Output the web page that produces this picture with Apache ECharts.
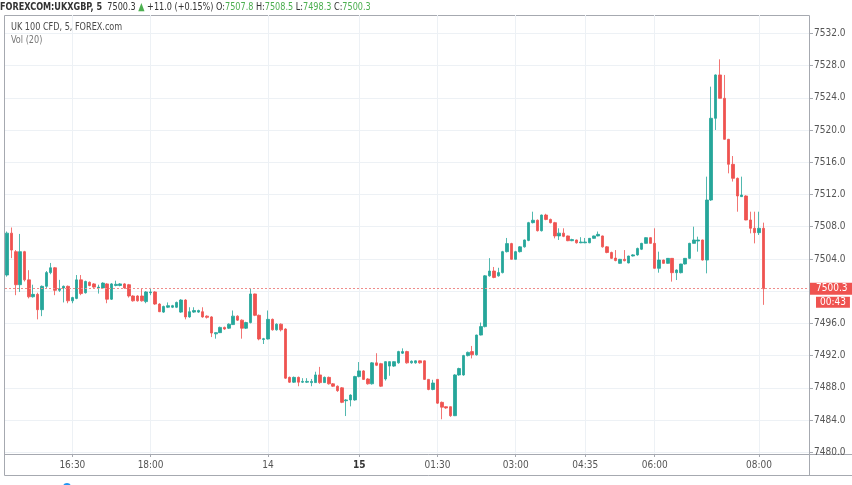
<!DOCTYPE html>
<html>
<head>
<meta charset="utf-8">
<title>UK 100 CFD, 5</title>
<script src="https://cdn.jsdelivr.net/npm/echarts@6/dist/echarts.min.js"></script>
<style>
  html, body { margin: 0; padding: 0; background: #fff; }
  #main { width: 852px; height: 485px; }
</style>
</head>
<body>
<div id="main"></div>
<script>
// 5 minute candles: [open, close, low, high]
var candles = [
  [7502.0, 7507.2, 7501.8, 7507.4], [7507.2, 7505.1, 7504.1, 7507.9], [7504.9, 7500.8, 7499.5, 7505.1],
  [7500.8, 7504.9, 7499.9, 7507.1], [7504.9, 7501.4, 7501.2, 7505.0], [7501.4, 7499.3, 7499.1, 7502.6],
  [7499.3, 7499.6, 7499.2, 7500.8], [7499.6, 7497.7, 7496.5, 7499.8], [7497.7, 7500.6, 7496.9, 7500.7],
  [7500.6, 7502.3, 7500.4, 7502.5], [7502.3, 7502.9, 7502.1, 7503.5], [7502.9, 7500.1, 7499.5, 7503.0],
  [7500.1, 7500.3, 7499.9, 7501.4], [7500.4, 7500.6, 7498.6, 7500.7], [7500.6, 7498.8, 7498.5, 7500.7],
  [7498.8, 7499.2, 7498.5, 7499.3], [7499.1, 7501.4, 7499.0, 7502.0], [7501.4, 7499.7, 7499.5, 7502.0],
  [7499.8, 7501.2, 7499.7, 7501.3], [7501.1, 7500.7, 7500.6, 7501.2], [7500.9, 7500.5, 7500.4, 7501.0],
  [7500.4, 7500.5, 7499.7, 7500.8], [7500.4, 7501.0, 7500.3, 7501.1], [7500.9, 7499.0, 7498.5, 7501.0],
  [7499.0, 7500.9, 7498.9, 7501.0], [7500.7, 7500.85, 7500.6, 7501.3], [7500.7, 7500.9, 7500.6, 7501.0],
  [7500.9, 7500.4, 7500.3, 7501.0], [7500.8, 7499.4, 7499.2, 7500.9], [7499.4, 7498.8, 7498.7, 7499.5],
  [7499.4, 7498.8, 7498.7, 7499.5], [7499.4, 7498.8, 7498.7, 7500.35], [7498.7, 7499.9, 7498.5, 7500.0],
  [7499.8, 7499.9, 7499.5, 7500.4], [7499.9, 7498.4, 7498.3, 7500.0], [7498.4, 7497.45, 7497.4, 7498.5],
  [7497.4, 7498.1, 7497.3, 7498.2], [7498.0, 7498.2, 7497.9, 7498.6], [7498.0, 7498.2, 7497.9, 7498.3],
  [7498.0, 7498.6, 7497.9, 7498.7], [7497.4, 7498.9, 7497.3, 7499.0], [7498.9, 7496.8, 7496.5, 7499.0],
  [7496.8, 7497.45, 7496.7, 7498.0], [7497.4, 7497.6, 7497.3, 7498.0], [7497.4, 7497.6, 7497.3, 7497.7],
  [7497.45, 7496.8, 7496.7, 7498.0], [7496.9, 7496.75, 7496.6, 7497.0], [7496.8, 7494.8, 7494.3, 7496.9],
  [7494.7, 7494.85, 7494.1, 7494.9], [7494.85, 7495.5, 7494.8, 7495.6], [7495.5, 7495.3, 7495.2, 7495.6],
  [7495.4, 7495.9, 7495.3, 7496.0], [7495.85, 7496.9, 7495.8, 7497.6], [7496.9, 7496.4, 7496.3, 7497.0],
  [7496.4, 7495.4, 7494.1, 7496.5], [7495.4, 7496.1, 7495.3, 7496.2], [7496.1, 7499.65, 7496.0, 7500.35],
  [7499.65, 7497.0, 7496.9, 7499.7], [7497.0, 7494.06, 7493.9, 7497.1], [7494.0, 7494.1, 7493.44, 7494.2],
  [7494.06, 7496.5, 7494.0, 7497.6], [7496.5, 7495.2, 7495.1, 7496.6], [7495.2, 7495.9, 7495.1, 7496.0],
  [7495.9, 7495.2, 7495.0, 7496.0], [7495.3, 7489.2, 7489.1, 7495.4], [7489.3, 7488.7, 7488.6, 7489.4],
  [7488.7, 7489.3, 7488.6, 7489.4], [7489.3, 7488.7, 7488.2, 7489.4], [7488.7, 7488.8, 7488.6, 7489.2],
  [7488.7, 7488.8, 7488.6, 7489.2], [7488.65, 7488.8, 7488.2, 7489.1], [7488.65, 7489.6, 7488.6, 7490.0],
  [7489.6, 7488.65, 7488.5, 7490.6], [7488.65, 7489.3, 7488.6, 7489.4], [7489.3, 7488.5, 7488.4, 7489.4],
  [7488.5, 7488.2, 7488.1, 7488.6], [7488.2, 7487.65, 7487.5, 7488.3], [7488.0, 7486.2, 7486.1, 7488.1],
  [7486.4, 7486.5, 7484.5, 7486.6], [7486.5, 7487.1, 7485.7, 7487.2], [7486.5, 7489.4, 7486.4, 7489.5],
  [7489.4, 7490.1, 7489.3, 7491.2], [7490.1, 7489.05, 7489.0, 7490.2], [7489.1, 7488.5, 7488.4, 7489.2],
  [7488.5, 7491.1, 7488.4, 7491.2], [7491.1, 7490.8, 7490.7, 7492.3], [7491.0, 7488.2, 7488.1, 7491.1],
  [7489.1, 7491.25, 7488.9, 7491.3], [7490.7, 7491.25, 7489.5, 7491.3], [7490.7, 7491.25, 7490.6, 7491.3],
  [7491.1, 7492.5, 7491.0, 7492.6], [7492.3, 7492.5, 7492.2, 7492.9], [7492.5, 7491.1, 7491.0, 7492.6],
  [7491.1, 7491.3, 7491.0, 7491.4], [7491.1, 7491.35, 7491.0, 7491.4], [7491.35, 7491.1, 7491.0, 7491.4],
  [7491.35, 7489.05, 7489.0, 7491.4], [7489.05, 7487.8, 7487.7, 7489.1], [7487.8, 7488.6, 7487.7, 7489.0],
  [7489.05, 7486.1, 7486.0, 7489.1], [7486.2, 7485.6, 7484.1, 7486.3], [7485.66, 7485.5, 7485.4, 7485.7],
  [7485.66, 7484.54, 7484.4, 7485.7], [7484.54, 7489.6, 7484.5, 7489.7], [7489.6, 7490.4, 7489.5, 7490.5],
  [7489.6, 7492.0, 7489.5, 7492.1], [7492.0, 7492.4, 7491.9, 7492.5], [7492.5, 7492.1, 7491.65, 7493.2],
  [7492.1, 7494.55, 7492.0, 7494.6], [7494.55, 7495.6, 7494.5, 7496.1], [7495.6, 7501.9, 7495.5, 7502.0],
  [7501.9, 7502.5, 7501.8, 7504.1], [7502.5, 7501.7, 7501.6, 7503.0], [7501.9, 7502.3, 7501.8, 7502.9],
  [7502.3, 7504.9, 7502.2, 7505.0], [7504.9, 7505.9, 7504.8, 7506.6], [7505.9, 7503.95, 7503.9, 7506.0],
  [7503.95, 7504.9, 7503.9, 7505.0], [7504.9, 7505.5, 7504.8, 7505.6], [7505.5, 7506.35, 7505.4, 7506.4],
  [7506.3, 7508.5, 7506.2, 7508.6], [7508.5, 7508.8, 7508.4, 7509.86], [7508.8, 7507.5, 7507.4, 7508.9],
  [7507.5, 7509.45, 7507.4, 7509.5], [7509.45, 7508.9, 7508.8, 7509.6], [7508.9, 7508.5, 7508.4, 7509.0],
  [7508.5, 7506.85, 7506.55, 7508.6], [7506.85, 7507.2, 7506.35, 7507.8], [7507.2, 7506.8, 7506.7, 7507.8],
  [7506.85, 7506.26, 7506.2, 7506.9], [7506.26, 7506.4, 7506.2, 7506.5], [7506.35, 7506.0, 7505.9, 7506.4],
  [7506.0, 7506.1, 7505.95, 7506.7], [7506.0, 7506.1, 7505.95, 7506.6], [7506.0, 7506.55, 7505.95, 7506.6],
  [7506.55, 7506.85, 7506.5, 7506.9], [7506.85, 7507.05, 7506.8, 7507.4], [7506.85, 7505.5, 7505.4, 7506.9],
  [7505.5, 7504.8, 7504.7, 7505.6], [7504.8, 7504.07, 7504.0, 7504.9], [7504.1, 7503.8, 7503.7, 7505.1],
  [7503.45, 7503.95, 7503.4, 7504.0], [7503.95, 7503.78, 7503.7, 7505.1], [7503.5, 7504.36, 7503.45, 7504.4],
  [7504.36, 7504.5, 7504.3, 7504.6], [7504.5, 7505.3, 7504.4, 7505.4], [7505.2, 7505.93, 7505.1, 7506.0],
  [7505.93, 7506.64, 7505.9, 7506.7], [7506.64, 7505.93, 7505.9, 7506.7], [7505.93, 7502.83, 7502.8, 7507.8],
  [7502.83, 7503.86, 7502.29, 7504.9], [7503.86, 7503.45, 7503.4, 7503.9], [7503.45, 7504.07, 7503.4, 7504.1],
  [7504.07, 7502.29, 7501.18, 7504.1], [7502.29, 7502.62, 7501.38, 7502.7], [7502.29, 7503.37, 7502.2, 7503.4],
  [7503.37, 7504.07, 7503.3, 7504.1], [7504.07, 7505.93, 7504.0, 7506.0], [7505.93, 7506.35, 7505.9, 7508.0],
  [7506.22, 7506.35, 7504.9, 7506.76], [7506.35, 7503.86, 7503.8, 7506.4], [7503.86, 7511.31, 7502.21, 7514.21],
  [7511.31, 7521.45, 7511.2, 7525.38], [7521.45, 7526.83, 7520.0, 7526.9], [7526.83, 7523.93, 7523.9, 7528.77],
  [7523.93, 7518.84, 7518.8, 7526.83], [7518.84, 7515.74, 7514.62, 7518.9], [7515.74, 7514.0, 7513.6, 7516.77],
  [7514.0, 7511.81, 7509.86, 7514.1], [7511.73, 7511.93, 7511.7, 7514.21], [7511.81, 7508.83, 7508.8, 7511.9],
  [7508.83, 7507.8, 7507.17, 7509.86], [7507.8, 7507.26, 7505.93, 7509.86], [7507.26, 7507.8, 7506.97, 7509.86],
  [7507.8, 7500.3, 7498.3, 7508.5]
];

// time labels shown on the x axis, keyed by candle slot
var tickSlots = [15, 33, 60, 81, 99, 117, 133, 149, 173];
var tickNames = ['16:30', '18:00', '14', '15', '01:30', '03:00', '04:35', '06:00', '08:00'];
var boldSlots = [81];

var slotCount = 185;   // candles plus the empty space on the right
var symbolName = 'FOREXCOM:UKXGBP, 5';
var seriesName = 'UK 100 CFD, 5, FOREX.com';
var volName = 'Vol (20)';
var change = 11.0;
var changePct = 0.15;
var countdown = '00:43';

var upColor = '#26a69a';
var downColor = '#ef5350';
var gridColor = '#edf1f5';
var frameColor = '#a6a9b0';
var FONT = '"DejaVu Sans Condensed", "Liberation Sans", sans-serif';

var slots = [];
for (var i = 0; i < slotCount; i++) slots.push(String(i));

var last = candles[candles.length - 1];
var lastClose = last[1];

function isTick(idx) {
  return tickSlots.indexOf(Number(idx)) >= 0;
}

var chart = echarts.init(document.getElementById('main'));

var band = (852 - 5 - 43) / slotCount;

var option = {
  animation: false,
  textStyle: { fontFamily: FONT },
  grid: [
    // background grid: vertical lines + time labels, points sit on candle centres
    { left: 5 + band / 2, right: 43 + band / 2, top: 15, bottom: 31 },
    // price grid
    { left: 5, right: 43, top: 33.3, bottom: 32.7 }
  ],
  xAxis: [
    {
      type: 'category', gridIndex: 0, data: slots, boundaryGap: false,
      axisLine: { show: false },
      axisTick: { show: true, interval: function (i) { return isTick(i); }, length: 3, lineStyle: { color: frameColor } },
      axisLabel: {
        interval: function (i) { return isTick(i); },
        formatter: function (v) {
          var k = tickSlots.indexOf(Number(v));
          if (k < 0) return '';
          return boldSlots.indexOf(Number(v)) >= 0 ? '{b|' + tickNames[k] + '}' : tickNames[k];
        },
        color: '#555', fontSize: 10, fontFamily: FONT, margin: 6,
        rich: { b: { fontWeight: 'bold', color: '#333', fontSize: 10, fontFamily: FONT } }
      },
      splitLine: { show: true, interval: function (i) { return isTick(i); }, lineStyle: { color: gridColor, width: 1 } }
    },
    {
      type: 'category', gridIndex: 1, data: slots, boundaryGap: true,
      axisLine: { show: false }, axisTick: { show: false }, axisLabel: { show: false }, splitLine: { show: false }
    }
  ],
  yAxis: [
    { type: 'value', gridIndex: 0, min: 0, max: 1, show: false },
    {
      type: 'value', gridIndex: 1, position: 'right',
      min: 7480, max: 7532, interval: 4,
      axisLine: { show: false },
      axisTick: { show: true, length: 4, lineStyle: { color: frameColor } },
      axisLabel: {
        margin: 5, color: '#555', fontSize: 10, fontFamily: FONT,
        formatter: function (v) { return v.toFixed(1); }
      },
      splitLine: { show: true, lineStyle: { color: gridColor, width: 1 } }
    }
  ],
  series: [
    {
      type: 'candlestick', xAxisIndex: 1, yAxisIndex: 1,
      data: candles,
      barWidth: 3,
      itemStyle: {
        color: upColor, color0: downColor,
        borderColor: upColor, borderColor0: downColor, borderWidth: 0.8
      },
      markLine: {
        silent: true, symbol: 'none', animation: false,
        data: [{ yAxis: lastClose }],
        lineStyle: { color: '#f08c8a', type: [2, 2], width: 1, opacity: 1 },
        label: {
          show: true, position: 'end', distance: 1,
          formatter: lastClose.toFixed(1),
          color: '#fff', backgroundColor: downColor,
          fontSize: 10, fontFamily: FONT, lineHeight: 11,
          padding: [1, 4, 0, 6], width: 33
        }
      }
    }
  ],
  graphic: [
    // frame
    { type: 'line', shape: { x1: 4.5, y1: 15.5, x2: 809.5, y2: 15.5 }, style: { stroke: frameColor, lineWidth: 1 }, silent: true },
    { type: 'line', shape: { x1: 4.5, y1: 15.5, x2: 4.5, y2: 475.5 }, style: { stroke: frameColor, lineWidth: 1 }, silent: true },
    { type: 'line', shape: { x1: 809.5, y1: 15.5, x2: 809.5, y2: 475.5 }, style: { stroke: frameColor, lineWidth: 1 }, silent: true },
    { type: 'line', shape: { x1: 4.5, y1: 454.5, x2: 852, y2: 454.5 }, style: { stroke: frameColor, lineWidth: 1 }, silent: true },
    { type: 'line', shape: { x1: 4.5, y1: 475.5, x2: 852, y2: 475.5 }, style: { stroke: frameColor, lineWidth: 1 }, silent: true },
    // header, squeezed a little to match the narrow screen font
    {
      type: 'text', x: 0, y: 7, scaleX: 0.82, silent: true,
      style: {
        text: '{s|' + symbolName + '}  {v|' + lastClose.toFixed(1) + '} {g|\u25B2} {v|+' + change.toFixed(1) +
              ' (+' + changePct.toFixed(2) + '%)} {k|O:}{g|' + last[0].toFixed(1) + '} {k|H:}{g|' + last[3].toFixed(1) +
              '} {k|L:}{g|' + last[2].toFixed(1) + '} {k|C:}{g|' + last[1].toFixed(1) + '}',
        font: '11px ' + FONT, verticalAlign: 'middle',
        rich: {
          s: { fontWeight: 'bold', fill: '#333', fontSize: 11, fontFamily: FONT },
          v: { fill: '#333', fontSize: 11, fontFamily: FONT },
          k: { fill: '#333', fontSize: 11, fontFamily: FONT },
          g: { fill: '#4caf50', fontSize: 11, fontFamily: FONT }
        }
      }
    },
    { type: 'text', x: 11, y: 27, scaleX: 0.82, silent: true, style: { text: seriesName, fill: '#4a4a4a', font: '11px ' + FONT, verticalAlign: 'middle' } },
    { type: 'text', x: 11, y: 40, scaleX: 0.82, silent: true, style: { text: volName, fill: '#777', font: '11px ' + FONT, verticalAlign: 'middle' } },
    { type: 'circle', shape: { cx: 67, cy: 487, r: 4 }, style: { fill: '#2196f3' }, silent: true }
  ]
};

chart.setOption(option);

// countdown box under the last price label
var py = chart.convertToPixel({ yAxisIndex: 1 }, lastClose);
chart.setOption({
  graphic: [{
    type: 'text', id: 'countdown', x: 816, y: py + 8, silent: true,
    style: {
      text: countdown, fill: '#fff', backgroundColor: downColor,
      font: '10px ' + FONT, padding: [1, 4, 0, 4]
    }
  }]
});
</script>
</body>
</html>
